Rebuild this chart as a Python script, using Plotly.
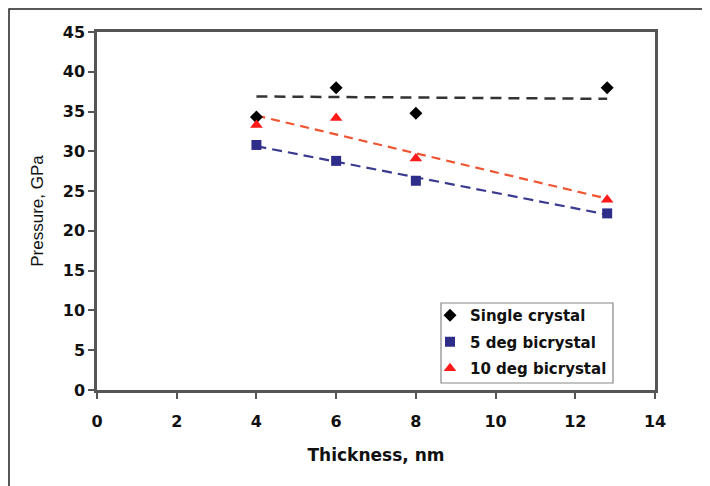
import plotly.graph_objects as go

thickness = [4, 6, 8, 12.8]
single_crystal = [34.3, 38.0, 34.8, 38.0]
bicrystal_5deg = [30.8, 28.8, 26.3, 22.2]
bicrystal_10deg = [33.3, 34.2, 29.1, 23.9]

trend_x = [4, 12.8]
trend_single = [36.9, 36.6]
trend_5deg = [30.65, 22.05]
trend_10deg = [34.5, 24.05]

x_ticks = [0, 2, 4, 6, 8, 10, 12, 14]
y_ticks = [0, 5, 10, 15, 20, 25, 30, 35, 40, 45]

BOLD = "DejaVu Sans, sans-serif"
REG = "Liberation Sans, Arial, sans-serif"

# The page body adds an 8px offset; the figure is sized to fit the 710x486 window.
W, H = 702, 478
L, T = 89, 24
PW, PH = 558, 358

fig = go.Figure()

fig.add_trace(go.Scatter(x=trend_x, y=trend_single, mode="lines", showlegend=False,
                         line=dict(color="#333333", width=2.5, dash="11px,7px")))
fig.add_trace(go.Scatter(x=trend_x, y=trend_5deg, mode="lines", showlegend=False,
                         line=dict(color="#3a3a90", width=2.2, dash="10px,6px")))
fig.add_trace(go.Scatter(x=trend_x, y=trend_10deg, mode="lines", showlegend=False,
                         line=dict(color="#ee5533", width=2.2, dash="9px,6px")))

fig.add_trace(go.Scatter(x=thickness, y=single_crystal, mode="markers", name="Single crystal",
                         legendgroup="a",
                         marker=dict(symbol="diamond", size=10, color="#000000")))
fig.add_trace(go.Scatter(x=thickness, y=bicrystal_5deg, mode="markers", name="5 deg bicrystal",
                         legendgroup="b",
                         marker=dict(symbol="square", size=10, color="#2e2e8a")))
fig.add_trace(go.Scatter(x=thickness, y=bicrystal_10deg, mode="markers", name="10 deg bicrystal",
                         legendgroup="c",
                         marker=dict(symbol="triangle-up", size=11, color="#ff1a1a")))

def px(xa):
    return (xa - 8 - L) / PW

def py(ya):
    return (T + PH - (ya - 8)) / PH

fig.update_layout(
    width=W, height=H,
    margin=dict(l=L, r=W - L - PW, t=T, b=H - T - PH),
    paper_bgcolor="white", plot_bgcolor="white",
    font=dict(family=REG, color="#111111", size=16),
    legend=dict(x=px(430), y=py(299), xanchor="left", yanchor="top",
                bgcolor="rgba(0,0,0,0)", borderwidth=0,
                font=dict(family=BOLD, size=15, weight="bold"),
                traceorder="grouped", tracegroupgap=4, itemwidth=30),
    xaxis=dict(range=[0, 14], tickvals=x_ticks, ticks="outside", ticklen=6,
               tickcolor="#555555", tickwidth=1.5, automargin=False,
               showline=True, linecolor="#555555", linewidth=2.5, mirror=True,
               showgrid=False, zeroline=False, ticklabelstandoff=9,
               tickfont=dict(family=BOLD, size=16, weight="bold"),
               title=dict(text="Thickness, nm", standoff=20,
                          font=dict(family=BOLD, size=17, weight="bold"))),
    yaxis=dict(range=[0, 45], tickvals=y_ticks, ticks="outside", ticklen=6,
               tickcolor="#555555", tickwidth=1.5, automargin=False,
               showline=True, linecolor="#555555", linewidth=2.5, mirror=True,
               showgrid=False, zeroline=False, ticklabelstandoff=0,
               tickfont=dict(family=BOLD, size=16, weight="bold"),
               title=dict(text="Pressure, GPa", standoff=15,
                          font=dict(family=REG, size=17))),
    shapes=[
        dict(type="rect", xref="paper", yref="paper",
             x0=(1 - L) / PW, x1=2.0, y0=-0.5, y1=(T + PH - 1) / PH,
             line=dict(color="#222222", width=1.5), layer="below"),
        dict(type="rect", xref="paper", yref="paper",
             x0=px(441), x1=px(613), y0=py(383), y1=py(303),
             line=dict(color="#888888", width=1.2), fillcolor="white", layer="below"),
    ],
)

fig.write_html("out.html")
